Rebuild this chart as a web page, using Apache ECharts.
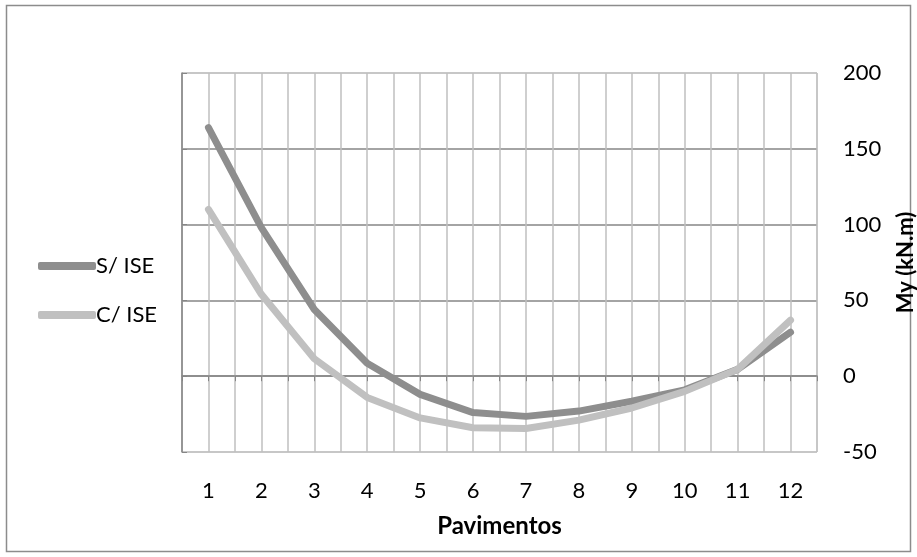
<!DOCTYPE html>
<html>
<head>
<meta charset="utf-8">
<script src="https://cdn.jsdelivr.net/npm/echarts@6/dist/echarts.min.js"></script>
<style>
html,body{margin:0;padding:0;background:#fff;}
#c{width:917px;height:557px;}
</style>
</head>
<body>
<div id="c"></div>
<script>
var categories = ['1','2','3','4','5','6','7','8','9','10','11','12'];
var seriesNames = ['S/ ISE', 'C/ ISE'];
var sIse = [164, 98, 44, 8.5, -12, -24, -26.5, -23, -16.5, -9, 4.5, 29];
var cIse = [110, 54, 11.5, -14, -27.5, -34, -34.5, -29, -21, -10, 4.5, 37];
var yTicks = [-50, 0, 50, 100, 150, 200];

var FONT = 'Lato';
var chart = echarts.init(document.getElementById('c'));
chart.setOption({
  animation: false,
  backgroundColor: '#fff',
  graphic: [{
    type: 'rect',
    shape: {x: 6.5, y: 5.5, width: 904, height: 546},
    style: {fill: 'none', stroke: '#8c8c8c', lineWidth: 1.5},
    silent: true, z: -1
  }],
  grid: {left: 182, right: 100, top: 73, bottom: 105, show: true, borderColor: '#bfbfbf', borderWidth: 1, outerBoundsMode: 'none', containLabel: false},
  legend: {
    orient: 'vertical', left: 33, top: 250,
    itemWidth: 58, itemHeight: 8, itemGap: 27,
    icon: 'roundRect',
    textStyle: {fontFamily: FONT, fontSize: 22, color: '#000', lineHeight: 20, padding: [0,0,0,-5]},
    data: seriesNames
  },
  xAxis: [{
    type: 'category', data: categories, boundaryGap: true,
    position: 'bottom',
    axisLine: {show: false, onZero: false},
    axisTick: {show: false},
    splitLine: {show: false},
    axisLabel: {fontFamily: FONT, fontSize: 22, color: '#000', margin: 28},
    name: 'Pavimentos', nameLocation: 'middle', nameGap: 62,
    nameTextStyle: {fontFamily: FONT, fontSize: 24, fontWeight: 'bold', color: '#000'}
  }, {
    type: 'value', min: 0, max: 24, interval: 1,
    position: 'bottom',
    axisLine: {show: true, onZero: true, lineStyle: {color: '#868686', width: 1.5}},
    axisTick: {show: true, length: 5, lineStyle: {color: '#868686'}},
    axisLabel: {show: false},
    splitLine: {show: true, lineStyle: {color: '#bfbfbf', width: 1.5}}
  }],
  yAxis: {
    type: 'value', position: 'right', min: yTicks[0], max: yTicks[yTicks.length-1], interval: 50,
    axisLine: {show: true, lineStyle: {color: '#868686', width: 1.5}},
    axisTick: {show: true, length: 5, lineStyle: {color: '#868686'}},
    axisLabel: {fontFamily: FONT, fontSize: 22, color: '#000', margin: 26},
    splitLine: {show: true, lineStyle: {color: ['#bfbfbf','#868686','#868686','#868686','#868686','#bfbfbf'], width: 1.5}},
    name: 'My (kN.m)', nameLocation: 'middle', nameRotate: 90, nameGap: 78,
    nameTextStyle: {fontFamily: FONT, fontSize: 22, fontWeight: 'bold', color: '#000'}
  },
  series: [{
    name: seriesNames[0], type: 'line', data: sIse, xAxisIndex: 0,
    showSymbol: false, symbol: 'none', smooth: false,
    lineStyle: {color: '#8e8e8e', width: 7, cap: 'round', join: 'round'},
    itemStyle: {color: '#8e8e8e'}
  }, {
    name: seriesNames[1], type: 'line', data: cIse, xAxisIndex: 0,
    showSymbol: false, symbol: 'none', smooth: false,
    lineStyle: {color: '#c0c0c0', width: 7, cap: 'round', join: 'round'},
    itemStyle: {color: '#c0c0c0'}
  }]
});
</script>
</body>
</html>
